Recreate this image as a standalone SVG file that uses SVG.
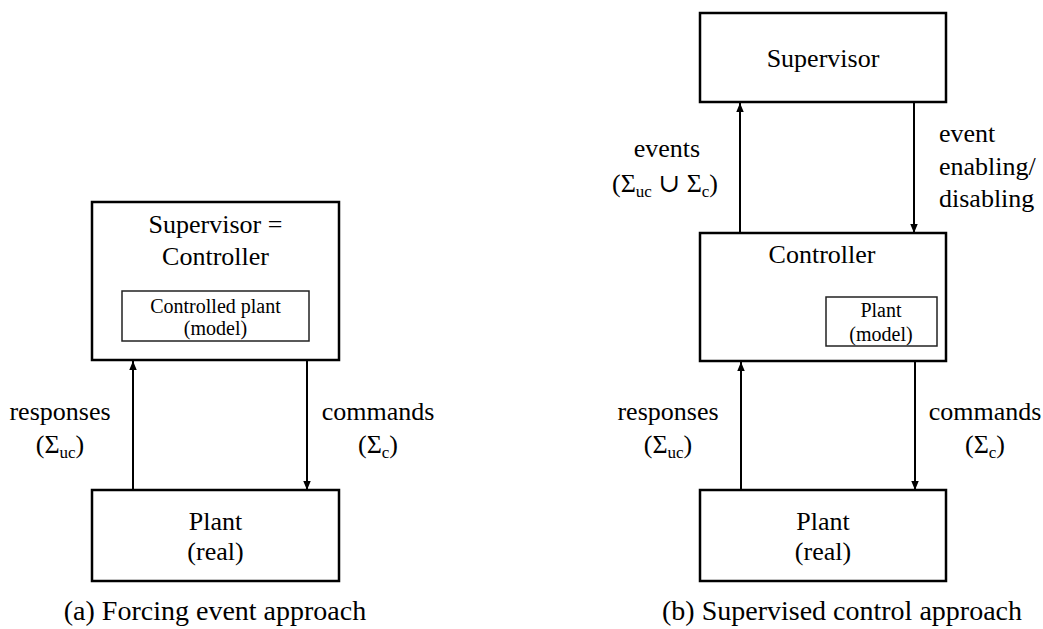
<svg xmlns="http://www.w3.org/2000/svg" width="1043" height="629" viewBox="0 0 1043 629">
<defs>
<style>
text{font-family:'Liberation Serif','Tinos','Times New Roman','DejaVu Serif',serif;fill:#000;}
.t{font-size:26px;}
.s{font-size:20px;}
.c{font-size:28px;}
.m{text-anchor:middle;}
.box{fill:#fff;stroke:#000;stroke-width:2.5;}
.ibox{fill:#fff;stroke:#222;stroke-width:1.5;}
.ar{stroke:#000;stroke-width:2;fill:none;marker-end:url(#ah);}
</style>
<marker id="ah" markerUnits="userSpaceOnUse" markerWidth="10" markerHeight="8" refX="9" refY="3.75" orient="auto">
<path d="M0,0 L9,3.75 L0,7.5 z" fill="#000"/>
</marker>
</defs>
<rect width="1043" height="629" fill="#fff"/>

<g id="connectors">
<line class="ar" x1="133" y1="490" x2="133" y2="361"/>
<line class="ar" x1="307" y1="361" x2="307" y2="490"/>
<line class="ar" x1="740" y1="233" x2="740" y2="103"/>
<line class="ar" x1="914" y1="103" x2="914" y2="233"/>
<line class="ar" x1="741" y1="490" x2="741" y2="362"/>
<line class="ar" x1="915" y1="362" x2="915" y2="490"/>
</g>

<g id="a-supervisor-controller">
<rect class="box" x="92" y="202" width="247" height="158"/>
<text class="t m" x="215.5" y="233" font-family="Liberation Serif, DejaVu Serif, serif">Supervisor =</text>
<text class="t m" x="215.5" y="265">Controller</text>
</g>
<g id="a-controlled-plant-model">
<rect class="ibox" x="122" y="291" width="187" height="50"/>
<text class="s m" x="215.5" y="313">Controlled plant</text>
<text class="s m" x="215.5" y="335">(model)</text>
</g>
<g id="a-plant-real">
<rect class="box" x="92" y="490" width="247" height="91"/>
<text class="t m" x="215.5" y="530">Plant</text>
<text class="t m" x="215.5" y="560">(real)</text>
</g>
<g id="a-labels">
<text class="t m" x="60" y="420">responses</text>
<text class="t m" x="60" y="453">(Σ<tspan font-size="17" dy="5">uc</tspan><tspan dy="-5">)</tspan></text>
<text class="t m" x="378" y="420">commands</text>
<text class="t m" x="378" y="453">(Σ<tspan font-size="17" dy="5">c</tspan><tspan dy="-5">)</tspan></text>
<text class="c m" x="215" y="620">(a) Forcing event approach</text>
</g>

<g id="b-supervisor">
<rect class="box" x="700" y="13" width="246" height="89"/>
<text class="t m" x="823" y="67">Supervisor</text>
</g>
<g id="b-controller">
<rect class="box" x="700" y="233" width="246" height="128"/>
<text class="t m" x="822" y="263">Controller</text>
</g>
<g id="b-plant-model">
<rect class="ibox" x="826" y="297" width="111" height="49"/>
<text class="s m" x="881" y="317">Plant</text>
<text class="s m" x="881" y="341">(model)</text>
</g>
<g id="b-plant-real">
<rect class="box" x="700" y="490" width="246" height="91"/>
<text class="t m" x="823" y="530">Plant</text>
<text class="t m" x="823" y="560">(real)</text>
</g>
<g id="b-labels">
<text class="t m" x="667" y="157">events</text>
<text class="t m" x="665" y="192">(Σ<tspan font-size="17" dy="5">uc</tspan><tspan dy="-5"> ∪ Σ</tspan><tspan font-size="17" dy="5">c</tspan><tspan dy="-5">)</tspan></text>
<text class="t" x="939" y="142">event</text>
<text class="t" x="939" y="175">enabling/</text>
<text class="t" x="939" y="207">disabling</text>
<text class="t m" x="668" y="420">responses</text>
<text class="t m" x="668" y="453">(Σ<tspan font-size="17" dy="5">uc</tspan><tspan dy="-5">)</tspan></text>
<text class="t m" x="985" y="420">commands</text>
<text class="t m" x="985" y="453">(Σ<tspan font-size="17" dy="5">c</tspan><tspan dy="-5">)</tspan></text>
<text class="c m" x="842" y="620">(b) Supervised control approach</text>
</g>
</svg>
